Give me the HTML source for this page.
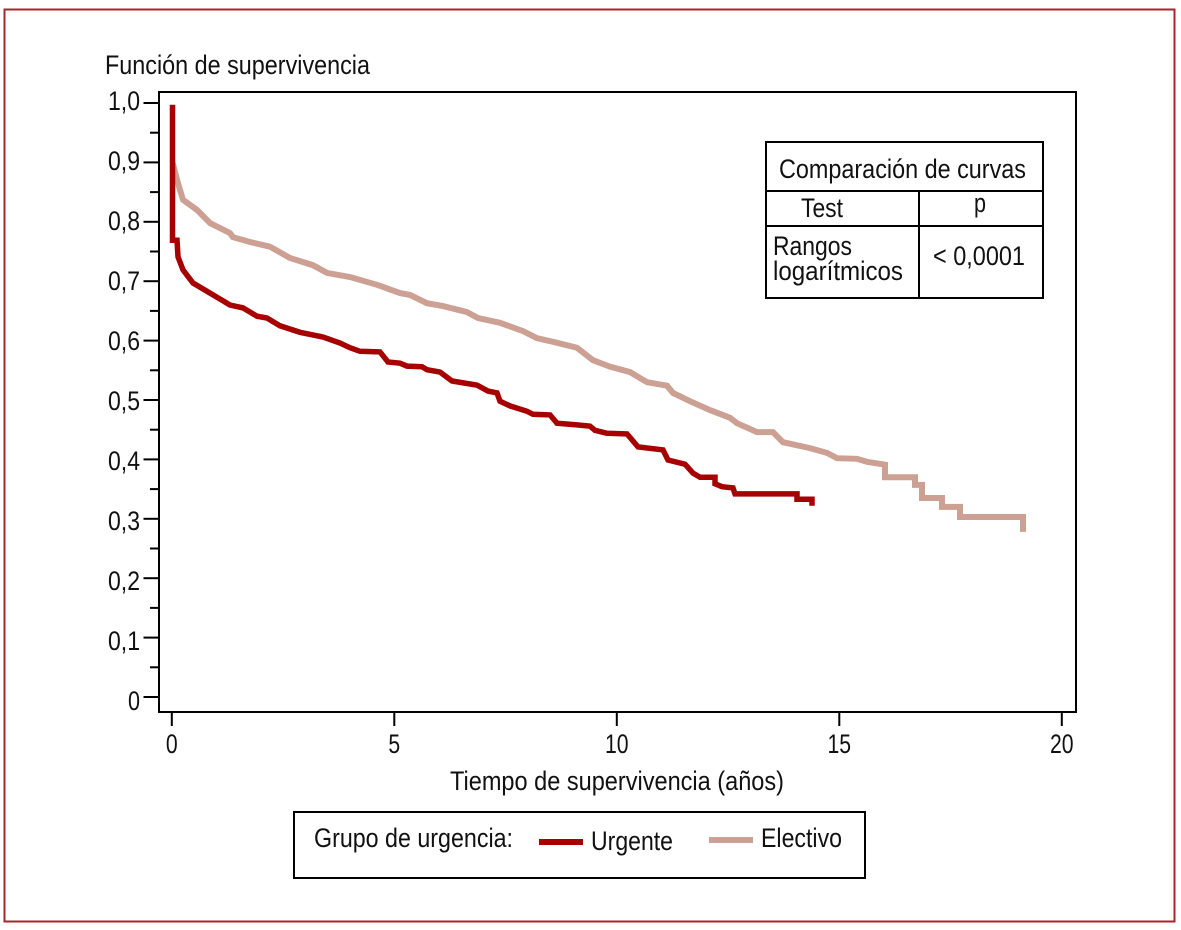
<!DOCTYPE html>
<html lang="es">
<head>
<meta charset="utf-8">
<title>Función de supervivencia</title>
<style>
html,body{margin:0;padding:0;background:#fff;}
svg{display:block;}
text{font-family:"Liberation Sans",sans-serif;font-size:26.5px;fill:#111;}
</style>
</head>
<body>
<svg id="chart" xmlns="http://www.w3.org/2000/svg" width="1181" height="930" viewBox="0 0 1181 930">
  <rect x="0" y="0" width="1181" height="930" fill="#fff"/>
  <rect x="4.5" y="9.5" width="1170" height="912" fill="none" stroke="#a9262c" stroke-width="2"/>
  <text x="105" y="74" textLength="265" lengthAdjust="spacingAndGlyphs">Función de supervivencia</text>
  <rect x="159" y="92" width="917" height="620" fill="none" stroke="#000" stroke-width="2"/>
  <g id="axes"></g>
  <g id="series"></g>
  <text x="450" y="790" textLength="334" lengthAdjust="spacingAndGlyphs">Tiempo de supervivencia (años)</text>

  <g>
    <rect x="766" y="142" width="277" height="156" fill="#fff" stroke="#000" stroke-width="2"/>
    <line x1="766" y1="191" x2="1043" y2="191" stroke="#000" stroke-width="2"/>
    <line x1="766" y1="226" x2="1043" y2="226" stroke="#000" stroke-width="2"/>
    <line x1="919" y1="191" x2="919" y2="298" stroke="#000" stroke-width="2"/>
    <text x="779" y="178" textLength="247" lengthAdjust="spacingAndGlyphs">Comparación de curvas</text>
    <text x="801" y="217" textLength="42" lengthAdjust="spacingAndGlyphs">Test</text>
    <text x="974" y="212" textLength="12" lengthAdjust="spacingAndGlyphs">p</text>
    <text x="773" y="255" textLength="79" lengthAdjust="spacingAndGlyphs">Rangos</text>
    <text x="773" y="280" textLength="130" lengthAdjust="spacingAndGlyphs">logarítmicos</text>
    <text x="933" y="265" textLength="92" lengthAdjust="spacingAndGlyphs">&lt; 0,0001</text>
  </g>

  <g>
    <rect x="294" y="812" width="571" height="66" fill="#fff" stroke="#000" stroke-width="2"/>
    <text x="314" y="847" textLength="199" lengthAdjust="spacingAndGlyphs">Grupo de urgencia:</text>
    <rect x="539" y="839" width="44" height="6" fill="#a60000"/>
    <text x="591" y="850" textLength="82" lengthAdjust="spacingAndGlyphs">Urgente</text>
    <rect x="709" y="837" width="44" height="6" fill="#cda094"/>
    <text x="761" y="847" textLength="81" lengthAdjust="spacingAndGlyphs">Electivo</text>
  </g>
</svg>
<script>
const yMajorTicks = [1.0, 0.9, 0.8, 0.7, 0.6, 0.5, 0.4, 0.3, 0.2, 0.1, 0];
const yMajorLabels = ["1,0", "0,9", "0,8", "0,7", "0,6", "0,5", "0,4", "0,3", "0,2", "0,1", "0"];
const yMinorTicks = [0.95, 0.85, 0.75, 0.65, 0.55, 0.45, 0.35, 0.25, 0.15, 0.05];
const xTicks = [0, 5, 10, 15, 20];
const xLabels = ["0", "5", "10", "15", "20"];

const electivoTime = [0.021, 0.14, 0.252, 0.566, 0.858, 1.308, 1.375, 1.758, 2.207, 2.656, 3.173, 3.488, 4.005, 4.612, 5.128, 5.352, 5.735, 6.094, 6.634, 6.881, 7.376, 7.892, 8.207, 8.566, 9.106, 9.465, 9.848, 10.297, 10.679, 11.128, 11.263, 11.645, 12.094, 12.544, 12.701, 13.15, 13.51, 13.735, 14.342, 14.724, 14.948, 15.398, 15.622, 16.027, 16.027, 16.701, 16.701, 16.858, 16.858, 17.308, 17.308, 17.712, 17.712, 19.128, 19.128];
const electivoSurvival = [0.899, 0.865, 0.837, 0.82, 0.798, 0.781, 0.774, 0.766, 0.758, 0.739, 0.727, 0.714, 0.707, 0.694, 0.68, 0.677, 0.663, 0.658, 0.648, 0.638, 0.63, 0.616, 0.604, 0.598, 0.588, 0.567, 0.556, 0.547, 0.53, 0.524, 0.512, 0.498, 0.483, 0.47, 0.461, 0.446, 0.446, 0.429, 0.419, 0.411, 0.402, 0.401, 0.396, 0.391, 0.37, 0.37, 0.357, 0.357, 0.335, 0.335, 0.32, 0.32, 0.303, 0.303, 0.278];

const urgenteTime = [0.015, 0.015, 0.117, 0.14, 0.252, 0.476, 0.925, 1.308, 1.6, 1.915, 2.139, 2.431, 2.881, 3.397, 3.78, 4.005, 4.229, 4.679, 4.858, 5.128, 5.285, 5.623, 5.735, 6.027, 6.297, 6.858, 7.105, 7.308, 7.376, 7.6, 7.983, 8.117, 8.499, 8.656, 9.106, 9.398, 9.51, 9.78, 10.229, 10.476, 11.038, 11.151, 11.533, 11.713, 11.87, 12.207, 12.207, 12.365, 12.612, 12.657, 14.049, 14.049, 14.387, 14.387];
const urgenteSurvival = [0.997, 0.769, 0.769, 0.741, 0.719, 0.697, 0.677, 0.66, 0.655, 0.641, 0.638, 0.625, 0.614, 0.606, 0.596, 0.588, 0.582, 0.581, 0.564, 0.562, 0.557, 0.556, 0.551, 0.547, 0.532, 0.525, 0.515, 0.512, 0.498, 0.49, 0.481, 0.476, 0.475, 0.461, 0.458, 0.456, 0.449, 0.444, 0.443, 0.421, 0.416, 0.399, 0.392, 0.377, 0.37, 0.37, 0.359, 0.354, 0.352, 0.342, 0.342, 0.333, 0.333, 0.322];

const SVG_NS = "http://www.w3.org/2000/svg";
const axesGroup = document.getElementById("axes");
const seriesGroup = document.getElementById("series");

function xScale(t) { return 171.8 + t * 44.5; }
function yScale(s) { return 697 - s * 594; }
function yLabelBaseline(s) { return 710 - s * 600; }
function labelWidth(label) { return label === "0" ? 12 : 32; }

yMajorTicks.forEach(function (value, i) {
  const tick = document.createElementNS(SVG_NS, "line");
  
  
  tick.setAttribute("x1", 143.5);
  tick.setAttribute("x2", 159);
  tick.setAttribute("y1", yScale(value));
  tick.setAttribute("y2", yScale(value));
  tick.setAttribute("stroke", "#000");
  tick.setAttribute("stroke-width", 2);
  axesGroup.appendChild(tick);

  const label = document.createElementNS(SVG_NS, "text");
  
  
  const w = labelWidth(yMajorLabels[i]);
  label.setAttribute("x", 140 - w);
  label.setAttribute("y", yLabelBaseline(value));
  label.setAttribute("textLength", w);
  label.setAttribute("lengthAdjust", "spacingAndGlyphs");
  label.textContent = yMajorLabels[i];
  axesGroup.appendChild(label);
});

yMinorTicks.forEach(function (value) {
  const tick = document.createElementNS(SVG_NS, "line");
  
  
  tick.setAttribute("x1", 150);
  tick.setAttribute("x2", 159);
  tick.setAttribute("y1", yScale(value));
  tick.setAttribute("y2", yScale(value));
  tick.setAttribute("stroke", "#000");
  tick.setAttribute("stroke-width", 2);
  axesGroup.appendChild(tick);
});

xTicks.forEach(function (value, i) {
  const tick = document.createElementNS(SVG_NS, "line");
  
  
  tick.setAttribute("x1", xScale(value));
  tick.setAttribute("x2", xScale(value));
  tick.setAttribute("y1", 712);
  tick.setAttribute("y2", 726);
  tick.setAttribute("stroke", "#000");
  tick.setAttribute("stroke-width", 2);
  axesGroup.appendChild(tick);

  const label = document.createElementNS(SVG_NS, "text");
  
  
  const w = xLabels[i].length * 11.8;
  label.setAttribute("x", xScale(value) - w / 2);
  label.setAttribute("y", 753);
  label.setAttribute("textLength", w);
  label.setAttribute("lengthAdjust", "spacingAndGlyphs");
  label.textContent = xLabels[i];
  axesGroup.appendChild(label);
});

function pointsFor(times, values) {
  return times.map(function (t, i) {
    return xScale(t).toFixed(1) + "," + yScale(values[i]).toFixed(1);
  }).join(" ");
}

const electivoLine = document.createElementNS(SVG_NS, "polyline");


electivoLine.setAttribute("points", pointsFor(electivoTime, electivoSurvival));
electivoLine.setAttribute("fill", "none");
electivoLine.setAttribute("stroke", "#cda094");
electivoLine.setAttribute("stroke-width", 6);
electivoLine.setAttribute("stroke-linejoin", "miter");
seriesGroup.appendChild(electivoLine);

const urgenteLine = document.createElementNS(SVG_NS, "polyline");


urgenteLine.setAttribute("points", pointsFor(urgenteTime, urgenteSurvival));
urgenteLine.setAttribute("fill", "none");
urgenteLine.setAttribute("stroke", "#a60000");
urgenteLine.setAttribute("stroke-width", 5.5);
urgenteLine.setAttribute("stroke-linejoin", "miter");
seriesGroup.appendChild(urgenteLine);
</script>
</body>
</html>
